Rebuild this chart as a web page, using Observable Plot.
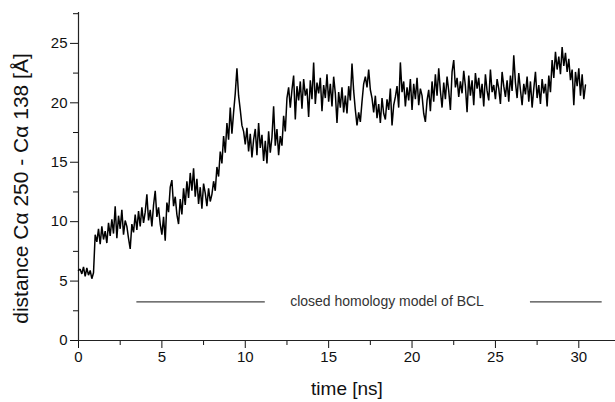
<!DOCTYPE html>
<html>
<head>
<meta charset="utf-8">
<script src="https://cdn.jsdelivr.net/npm/d3@7"></script>
<script src="https://cdn.jsdelivr.net/npm/@observablehq/plot@0.6"></script>
<style>
  html, body { margin: 0; padding: 0; background: #fff; }
</style>
</head>
<body>
<div id="chart"></div>
<script>
// sampling of the trajectory (ns)
const timeStart = 0;
const timeStep = 0.1;
// distance Cα250 - Cα138 [Å], one value per 0.1 ns
const distance = [
  5.9, 6.0, 5.6, 6.2, 5.4, 6.1, 5.5, 5.9, 5.2, 5.7,
  8.9, 8.3, 9.4, 8.1, 9.6, 8.5, 9.2, 8.2, 9.9, 8.8,
  10.2, 9.0, 11.3, 8.6, 10.5, 9.4, 11.0, 8.9, 10.1, 9.6,
  8.6, 7.7, 9.8, 9.1, 10.6, 9.3, 10.9, 9.6, 11.2, 9.9,
  10.8, 12.3, 10.1, 11.0, 9.6, 11.4, 12.6, 10.4, 11.2, 9.8,
  8.9, 10.4, 8.4, 11.6, 10.8, 12.9, 13.5, 11.3, 12.1, 10.6,
  9.8, 11.9, 10.6, 12.8, 11.4, 13.4, 12.0, 14.1, 12.6, 14.5,
  12.1, 13.6, 11.5, 12.9, 11.1, 13.2, 12.4, 11.3, 12.8, 11.7,
  12.3, 13.4, 12.6, 14.6, 13.8, 15.9, 14.9, 17.2, 15.8, 18.3,
  16.9, 19.6, 17.4, 19.2, 20.8, 22.9, 20.6, 19.4, 18.1, 17.6,
  16.5, 17.9, 15.9, 17.4, 15.4, 16.9, 17.8, 15.6, 18.3, 16.2,
  17.3, 15.1, 16.8, 14.9, 17.6, 15.8, 17.1, 19.7, 16.4, 17.8,
  15.6, 17.2, 16.4, 18.9, 17.6, 20.4, 21.3, 19.6, 21.1, 22.3,
  18.6, 21.4, 20.2, 21.8, 19.5, 22.0, 20.6, 21.2, 18.8, 21.9,
  20.3, 23.4, 19.9, 21.7, 20.8, 22.1, 19.3, 21.5, 20.4, 22.4,
  20.1, 21.6, 19.7, 22.2, 20.8, 18.3, 20.9, 19.6, 21.3, 19.2,
  20.6, 19.1, 21.4, 20.2, 23.3, 21.0, 19.4, 18.1, 19.2, 18.4,
  20.1, 21.6, 22.2, 21.3, 22.8, 21.1, 20.4, 19.2, 20.6, 18.7,
  19.9, 18.3, 20.4, 19.1, 18.6, 20.3, 19.4, 21.2, 18.1, 19.8,
  20.5, 21.4, 19.6, 23.4, 20.9, 21.8, 19.7, 21.3, 20.2, 22.0,
  19.4, 21.6, 20.3, 22.1, 19.8, 21.2, 20.6, 19.1, 18.4, 20.2,
  21.1, 19.3, 21.8, 20.1, 22.4, 20.6, 22.9, 21.0, 19.6, 21.7,
  20.3, 22.2, 21.0, 19.4, 22.6, 23.6, 21.3, 22.1, 20.5, 21.8,
  20.8, 22.7, 21.4, 19.2, 22.3, 20.6, 21.9, 19.8, 22.5, 21.2,
  22.1, 20.4, 21.6, 19.7, 22.4, 21.0, 20.2, 22.8, 20.9, 21.5,
  20.3, 22.0, 21.2, 19.9, 22.6, 21.4, 20.5, 21.9, 20.1, 22.3,
  21.0, 24.0, 21.7, 20.4, 22.5, 21.1, 19.8, 21.6, 20.7, 22.2,
  20.1, 21.8, 19.6, 21.2, 22.6, 20.4, 21.5, 19.9, 22.0, 20.8,
  21.6, 19.7, 22.3, 20.9, 23.6, 22.1, 24.3, 22.8, 23.9, 22.4,
  24.7, 23.1, 24.2, 22.6, 23.7, 21.9, 22.8, 19.8, 22.6, 21.4,
  22.9, 20.6, 22.4, 20.3, 21.5
];

// axis ticks
const xMajorTicks = [0, 5, 10, 15, 20, 25, 30];
const xMinorTicks = [2.5, 7.5, 12.5, 17.5, 22.5, 27.5];
const yMajorTicks = [0, 5, 10, 15, 20, 25];
const yMinorTicks = [2.5, 7.5, 12.5, 17.5, 22.5, 27.5];

// in-plot annotation (data coordinates)
const annotationText = ["closed homology model of BCL"];
const annotationTextX = [18.5];
const annotationY = [3.25];
const annotationLineX1 = [3.5, 27.1];
const annotationLineX2 = [11.2, 31.4];

const xLabel = "time [ns]";
const yLabel = "distance Cα 250 - Cα 138 [Å]";

const series = distance.map((d, i) => ({t: +(timeStart + i * timeStep).toFixed(2), d}));
const annotationLines = annotationLineX1.map((x1, i) => ({x1, x2: annotationLineX2[i], y: annotationY[0]}));
const annotationLabels = annotationText.map((s, i) => ({s, x: annotationTextX[i], y: annotationY[i]}));

const chart = Plot.plot({
  width: 615,
  height: 402,
  marginLeft: 78,
  marginRight: 0,
  marginTop: 12,
  marginBottom: 62,
  x: {domain: [0, 32.2]},
  y: {domain: [0, 27.6]},
  style: {fontFamily: "'Liberation Sans', Arial, Helvetica, sans-serif", fontSize: "15px", color: "#111", background: "#fff"},
  marks: [
    Plot.axisX({ticks: xMajorTicks, tickSize: 8, tickPadding: 3, label: null, fontSize: 15}),
    Plot.axisX({ticks: xMinorTicks, tickSize: 5, tickFormat: () => "", label: null}),
    Plot.axisY({ticks: yMajorTicks, tickSize: 8, tickPadding: 3, label: null, fontSize: 15}),
    Plot.axisY({ticks: yMinorTicks, tickSize: 5, tickFormat: () => "", label: null}),
    Plot.ruleY([0], {stroke: "#222", strokeWidth: 1.2}),
    Plot.ruleX([0], {y1: 0, y2: 27.6, stroke: "#222", strokeWidth: 1.2}),
    Plot.ruleY(annotationLines, {x1: "x1", x2: "x2", y: "y", stroke: "#444", strokeWidth: 1.2}),
    Plot.text(annotationLabels, {x: "x", y: "y", text: "s", fontSize: 14, fill: "#333", textAnchor: "middle", lineAnchor: "middle"}),
    Plot.line(series, {x: "t", y: "d", stroke: "#000", strokeWidth: 1.5, strokeLinejoin: "miter"}),
    Plot.text([xLabel], {frameAnchor: "bottom", dy: 48, fontSize: 19, fill: "#111", lineAnchor: "middle"}),
    Plot.text([yLabel], {frameAnchor: "left", rotate: -90, dx: -57, dy: 12, fontSize: 21, fill: "#111", textAnchor: "middle", lineAnchor: "middle"})
  ]
});
document.getElementById("chart").appendChild(chart);
</script>
</body>
</html>
